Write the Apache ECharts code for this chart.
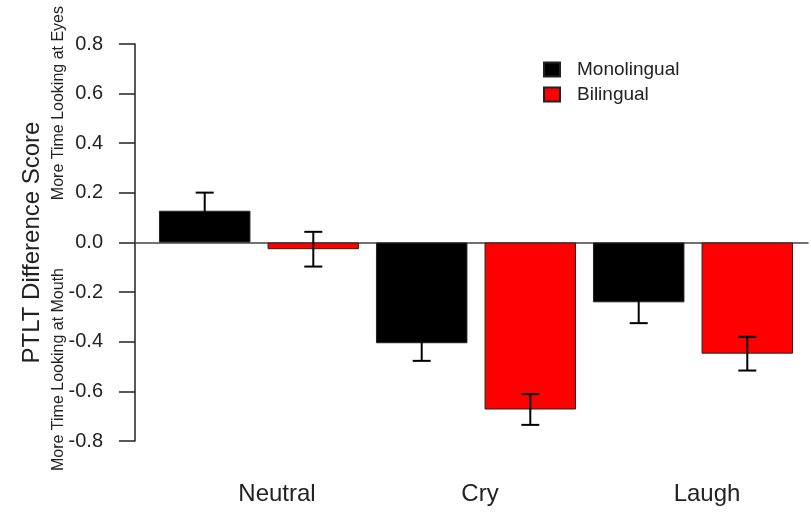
<!DOCTYPE html>
<html>
<head>
<meta charset="utf-8">
<script src="https://cdn.jsdelivr.net/npm/echarts@6/dist/echarts.min.js"></script>
<style>html,body{margin:0;padding:0;background:#fff;}#c{width:811px;height:512px;}</style>
</head>
<body>
<div id="c"></div>
<script>
const categories = ['Neutral', 'Cry', 'Laugh'];
const seriesNames = ['Monolingual', 'Bilingual'];
const monoValues = [0.128, -0.406, -0.241];
const biValues = [-0.027, -0.673, -0.448];
const monoErr = [0.073, 0.071, 0.084];
const biErr = [0.070, 0.062, 0.068];
const yTicks = [-0.8, -0.6, -0.4, -0.2, 0.0, 0.2, 0.4, 0.6, 0.8];

const CAT_GAP = 0.078, BAR_GAP = 0.187;
const errData = [];
categories.forEach((c, i) => {
  errData.push([i, monoValues[i], monoErr[i], 0]);
  errData.push([i, biValues[i], biErr[i], 1]);
});

const chart = echarts.init(document.getElementById('c'));
const font = 'Liberation Sans, Arial, sans-serif';
chart.setOption({
  animation: false,
  backgroundColor: '#fff',
  textStyle: { fontFamily: font },
  grid: [
    { left: 150.5, width: 651, top: 44, height: 397 },
    { left: 135, right: 3, top: 44, height: 397 }
  ],
  legend: {
    data: seriesNames,
    orient: 'vertical',
    left: 538, top: 55,
    icon: 'rect',
    itemWidth: 16, itemHeight: 14, itemGap: 6,
    textStyle: { fontSize: 19, color: '#222', padding: [0, 0, 0, 12], lineHeight: 14, fontFamily: font }
  },
  xAxis: [
    {
      type: 'category', gridIndex: 0, data: categories, position: 'bottom',
      axisLine: { show: false, onZero: false }, axisTick: { show: false },
      axisLabel: {
        margin: 41, fontSize: 24, color: '#222', fontFamily: font,
        formatter: (v, i) => '{s' + i + '|' + v + '}',
        rich: {
          s0: { fontSize: 24, color: '#222', padding: [0, 0, 0, 36] },
          s1: { fontSize: 24, color: '#222', padding: [0, 0, 0, 8] },
          s2: { fontSize: 24, color: '#222', padding: [0, 0, 0, 28] }
        }
      }
    },
    {
      type: 'value', gridIndex: 1, min: 0, max: 1,
      axisLine: { show: true, onZero: true, lineStyle: { color: '#444', width: 1.5 } },
      axisTick: { show: false }, axisLabel: { show: false }, splitLine: { show: false }
    }
  ],
  yAxis: [
    {
      type: 'value', gridIndex: 0, min: -0.8, max: 0.8, interval: 0.2, offset: 15.5,
      name: 'PTLT Difference Score', nameLocation: 'middle', nameGap: 91, nameRotate: 90,
      nameTextStyle: { fontSize: 24, color: '#222', fontFamily: font },
      axisLine: { show: true, lineStyle: { color: '#222', width: 1.5 } },
      axisTick: { show: true, length: 16, lineStyle: { color: '#222', width: 1.5 } },
      axisLabel: { margin: 32, fontSize: 20, color: '#222', fontFamily: font,
        formatter: v => v.toFixed(1) },
      splitLine: { show: false }
    },
    {
      type: 'value', gridIndex: 1, min: -0.8, max: 0.8,
      axisLine: { show: false }, axisTick: { show: false }, axisLabel: { show: false }, splitLine: { show: false }
    }
  ],
  graphic: [
    { type: 'text', left: 51, top: 6, rotation: Math.PI / 2,
      style: { text: 'More Time Looking at Eyes', fontSize: 16, fill: '#222', fontFamily: font } },
    { type: 'text', left: 51, top: 268, rotation: Math.PI / 2,
      style: { text: 'More Time Looking at Mouth', fontSize: 16, fill: '#222', fontFamily: font } }
  ],
  series: [
    {
      name: seriesNames[0], type: 'bar', xAxisIndex: 0, yAxisIndex: 0, data: monoValues,
      barCategoryGap: (CAT_GAP * 100) + '%', barGap: (BAR_GAP * 100) + '%',
      itemStyle: { color: '#000', borderColor: '#222', borderWidth: 1 }
    },
    {
      name: seriesNames[1], type: 'bar', xAxisIndex: 0, yAxisIndex: 0, data: biValues,
      barCategoryGap: (CAT_GAP * 100) + '%', barGap: (BAR_GAP * 100) + '%',
      itemStyle: { color: '#ff0000', borderColor: '#222', borderWidth: 1 }
    },
    {
      type: 'custom', xAxisIndex: 0, yAxisIndex: 0, z: 10, data: errData,
      encode: { x: 0, y: 1 },
      renderItem: function (params, api) {
        const idx = api.value(0), val = api.value(1), err = api.value(2), s = api.value(3);
        const band = api.size([1, 0])[0];
        const bw = band * (1 - CAT_GAP) / (2 + BAR_GAP);
        const off = bw * (1 + BAR_GAP) / 2;
        const cx = api.coord([idx, val])[0] + (s === 0 ? -off : off);
        const yTop = api.coord([idx, val + err])[1];
        const yBot = api.coord([idx, val - err])[1];
        const cap = 9;
        const st = { stroke: '#000', lineWidth: 2 };
        return { type: 'group', children: [
          { type: 'line', shape: { x1: cx, y1: yTop, x2: cx, y2: yBot }, style: st },
          { type: 'line', shape: { x1: cx - cap, y1: yTop, x2: cx + cap, y2: yTop }, style: st },
          { type: 'line', shape: { x1: cx - cap, y1: yBot, x2: cx + cap, y2: yBot }, style: st }
        ]};
      }
    }
  ]
});
</script>
</body>
</html>
